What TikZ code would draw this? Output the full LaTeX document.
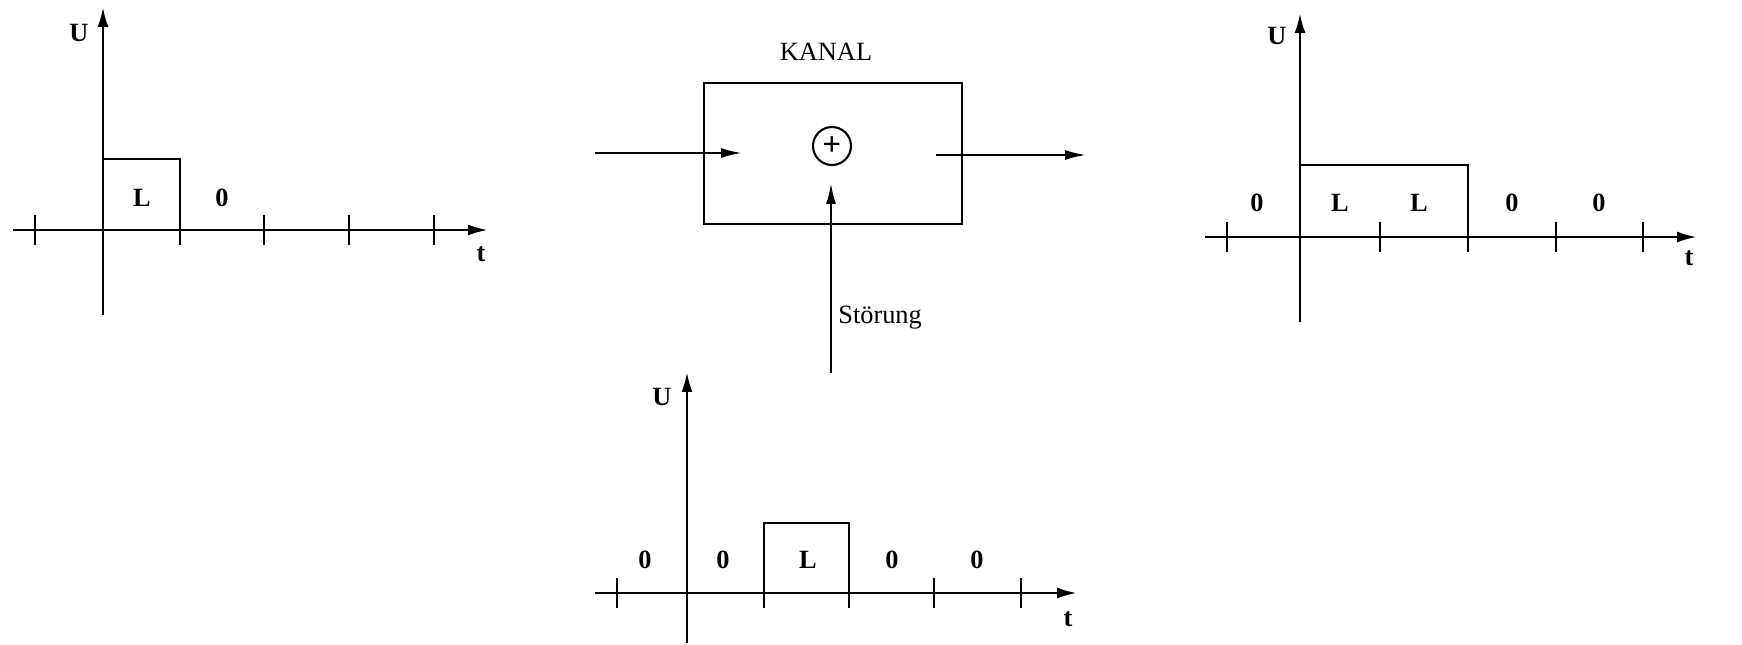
\documentclass[tikz,border=0pt]{standalone}
\usepackage{fontspec}
\setmainfont{Liberation Serif}
\usetikzlibrary{arrows.meta,positioning}

\begin{document}
\begin{tikzpicture}[x=0.02cm,y=-0.02cm,font=\fontsize{15}{18}\selectfont,
  axis/.style={-{Latex[length=4mm,width=2.2mm]},line width=1.5pt},
  tick/.style={line width=1.3pt},
  pulse/.style={line width=1.3pt},
  lbl/.style={font=\fontsize{15}{18}\selectfont\bfseries,inner sep=0pt},
  wire/.style={-{Latex[length=4.2mm,width=2mm]},line width=1.3pt},
  kanalbox/.style={draw,line width=1.4pt,minimum width=5.16cm,minimum height=2.82cm},
  sumnode/.style={draw,circle,line width=1.2pt,minimum size=7.6mm,inner sep=0pt,font=\fontsize{19}{19}\selectfont\bfseries}]
\useasboundingbox (0,0) rectangle (1742,645);
% input signal
\draw[axis] (13,230) -- (488,230);
\draw[axis] (103,315) -- (103,7);
\foreach \x in {35,180,264,349,434} \draw[tick] (\x,215) -- (\x,245);
\draw[pulse] (103,159) -- (180,159) -- (180,230);
\node[lbl] (uin) at (79,33) {U};
\node[lbl] (tin) at (481,254) {t};
\node[lbl] (lin) at (142,198) {L};
\node[lbl] (zin) at (222,198) {0};
% channel
\node[kanalbox] (kanal) at (833,153.5) {};
\node (kname) at (826,52) {KANAL};
\node[sumnode] (sum) at (832,146) {+};
\coordinate (in) at (595,153);
\coordinate (inend) at (742,153);
\coordinate (out) at (936,155);
\coordinate (outend) at (1086,155);
\coordinate (noise) at (831,373);
\coordinate (noiseend) at (831,183);
\draw[wire] (in) -- (inend);
\draw[wire] (out) -- (outend);
\draw[wire] (noise) -- (noiseend);
\node[anchor=west,inner sep=0pt] (stoer) at (838,318) {Störung};
% output signal
\draw[axis] (1205,237) -- (1697,237);
\draw[axis] (1300,322) -- (1300,13);
\foreach \x in {1227,1380,1468,1556,1643} \draw[tick] (\x,222) -- (\x,252);
\draw[pulse] (1300,165) -- (1468,165) -- (1468,237);
\node[lbl] (uout) at (1277,36) {U};
\node[lbl] (tout) at (1689,258) {t};
\node[lbl] (o1) at (1257,203) {0};
\node[lbl] (o2) at (1340,203) {L};
\node[lbl] (o3) at (1419,203) {L};
\node[lbl] (o4) at (1512,203) {0};
\node[lbl] (o5) at (1599,203) {0};
% noise signal
\draw[axis] (595,593) -- (1077,593);
\draw[axis] (687,643) -- (687,372);
\foreach \x in {617,764,849,934,1021} \draw[tick] (\x,578) -- (\x,608);
\draw[pulse] (764,593) -- (764,523) -- (849,523) -- (849,593);
\node[lbl] (un) at (662,397) {U};
\node[lbl] (tn) at (1068,619) {t};
\node[lbl] (n1) at (645,560) {0};
\node[lbl] (n2) at (723,560) {0};
\node[lbl] (n3) at (808,560) {L};
\node[lbl] (n4) at (892,560) {0};
\node[lbl] (n5) at (977,560) {0};
\end{tikzpicture}
\end{document}
